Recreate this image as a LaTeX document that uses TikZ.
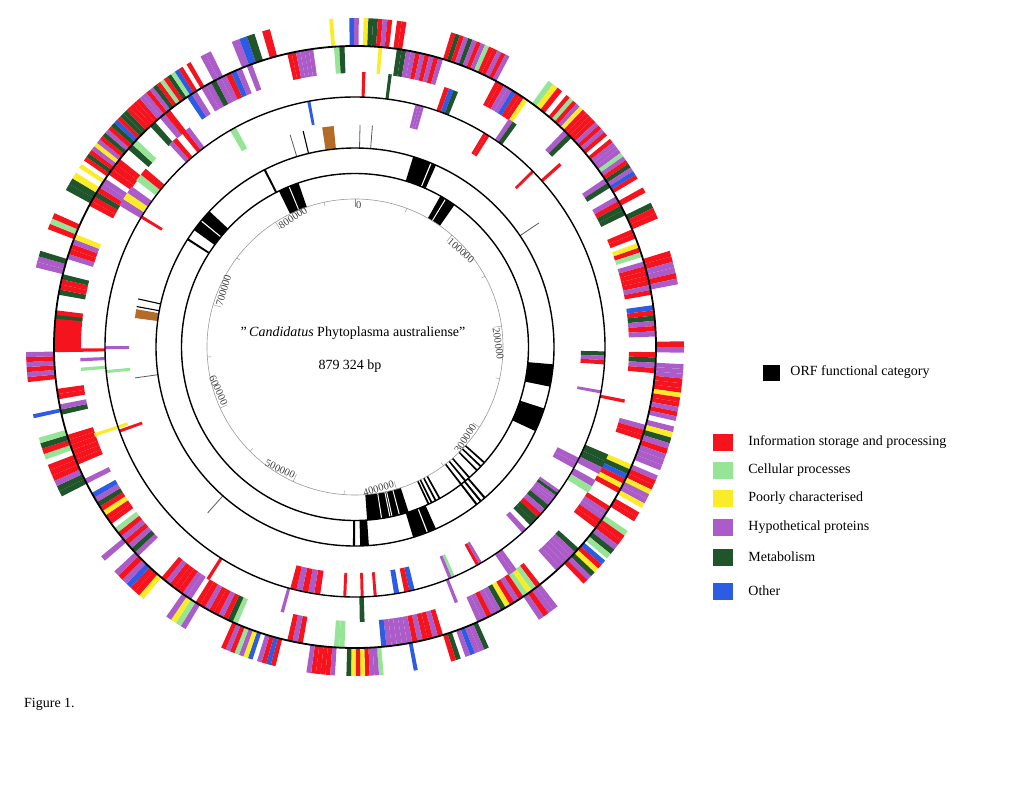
\documentclass[tikz,border=0pt]{standalone}
\usepackage{fontspec}
\setmainfont{Liberation Serif}
\usetikzlibrary{positioning}
\definecolor{gred}{RGB}{245,20,30}
\definecolor{gpurple}{RGB}{172,92,200}
\definecolor{gdgreen}{RGB}{32,84,42}
\definecolor{glgreen}{RGB}{150,228,150}
\definecolor{gyellow}{RGB}{250,236,40}
\definecolor{gblue}{RGB}{45,92,228}
\definecolor{gbrown}{RGB}{178,108,40}

% ring sector: inner r, outer r, from, to (degrees clockwise from top), colour
\newcommand{\arcbar}[5]{%
  \fill[#5] ({90-(#3)}:#1) arc[start angle={90-(#3)}, end angle={90-(#4)}, radius=#1]
    -- ({90-(#4)}:#2) arc[start angle={90-(#4)}, end angle={90-(#3)}, radius=#2] -- cycle;}

% a run of genes: inner r, outer r, from, to, number, percent left white
\newcommand{\genes}[6]{%
  \pgfmathsetmacro{\gw}{((#4)-(#3))/(#5)}%
  \foreach \k in {1,...,#5}{%
    \pgfmathsetmacro{\ga}{(#3)+(\k-1)*\gw}%
    \pgfmathrandominteger{\gg}{1}{100}%
    \ifnum\gg>#6\relax
      \pgfmathrandominteger{\gc}{1}{100}%
      \ifnum\gc<38 \def\gcol{gred}\else
      \ifnum\gc<70 \def\gcol{gpurple}\else
      \ifnum\gc<84 \def\gcol{gdgreen}\else
      \ifnum\gc<90 \def\gcol{glgreen}\else
      \ifnum\gc<95 \def\gcol{gyellow}\else
      \def\gcol{gblue}\fi\fi\fi\fi\fi
      \arcbar{#1}{#2}{\ga}{\ga+\gw}{\gcol}%
    \fi}}

\begin{document}
\begin{tikzpicture}[x=1pt,y=1pt]
\tikzset{
  legbox/.style={draw=none,minimum width=20pt,minimum height=17pt,inner sep=0},
  legtext/.style={font=\fontsize{14}{16}\selectfont,anchor=west,inner sep=0},
  scalelab/.style={font=\fontsize{10.5}{12}\selectfont,text=black!75,inner sep=1pt},
  ring/.style={line width=1.4pt},
  orfline/.style={line width=1.1pt},
  rnatick/.style={black!65,line width=0.8pt}
}
\useasboundingbox (-355,-438) rectangle (669,347);
\pgfmathsetseed{4242}

% outer gene tracks
\foreach \a/\b/\m/\g in {338/345/5/40, 359/369/12/5, 17/28/14/0, 36/39/3/20,
  40/60/26/5, 61/62/1/0, 64/67/3/0, 70/82/12/30, 87/91/4/30, 93/103/12/5,
  104/112/8/0, 113/122/10/5, 124/130/6/10, 130.5/136/6/10, 142/146/4/10,
  156/163/8/5, 175/181.5/8/5, 183.5/188.5/6/5, 194/204/12/5, 211/215/4/10,
  220/227/7/0, 229.5/230.5/1/0, 243/249/6/5, 250/254/4/0, 263/270/8/20,
  284/287/3/0, 291/294/3/0, 295/302/6/40, 303/326/30/5, 326/330/5/30, 332/334/2/0}
  {\genes{301}{329}{\a}{\b}{\m}{\g}}
\foreach \a/\b/\m/\g in {325/340/14/40, 347/352/6/0, 355/360/5/30, 8/17/10/0,
  27/35/9/5, 44/46/2/0, 56/58/2/0, 60/64/4/0, 67/80/14/10, 82/88/6/0, 91/95/4/0,
  105/108/3/0, 113/119/6/5, 122/127/5/5, 132/138/6/5, 142/156/14/5, 163/175/12/5,
  182/184/2/0, 189/193/4/10, 203/212/9/5, 213/220/7/5, 226/244/18/5, 247/253/6/5,
  257/262/5/20, 280/284/4/0, 287/292/5/0, 297/304/7/10, 305/322/14/20}
  {\genes{274}{301}{\a}{\b}{\m}{\g}}
\foreach \a/\b/\m/\g in {19/22/3/0, 34/36/2/0, 113/122/6/20, 144/146/2/0,
  178/181/3/30, 301/312/7/20, 317.5/319.5/2/0, 321/323/2/0}
  {\genes{250}{275}{\a}{\b}{\m}{\g}}
\foreach \a/\b/\m/\g in {14/16/3/0, 31/32.5/2/0, 91/94/3/0, 115/119/3/30,
  125/128/4/0, 128/138/8/20, 149.5/151/2/0, 156.5/158/2/0, 165/171/5/30,
  188/195/5/30, 330/333/2/20}
  {\genes{226}{250}{\a}{\b}{\m}{\g}}
\arcbar{274}{301}{269}{277}{gred}
\arcbar{274}{301}{275.4}{276.1}{gdgreen}
\foreach \r/\s/\c/\col in {301/329/355.5/gyellow, 301/329/169/gblue,
  301/329/257.5/gblue, 274/301/4.5/gyellow, 250/275/1.5/gred, 250/275/7/gdgreen,
  250/275/48/gred, 250/275/101/gred, 250/275/158/gpurple, 250/275/195/gpurple,
  250/275/212/gred, 250/275/265/glgreen, 250/275/267/gpurple, 250/275/269/gred,
  226/250/349/gblue, 226/250/45/gred, 226/250/100/gpurple, 226/250/175/gred,
  226/250/178/gred, 226/250/182/gred, 226/250/301/gred, 226/250/264/glgreen,
  226/250/269.5/gpurple, 226/250/250/gred, 240/275/251/gyellow}
  {\arcbar{\r}{\s}{\c}{\c+0.7}{\col}}

% RNA track
\foreach \c in {1.3, 4.5, 343, 56, 221.6, 262}
  {\draw[rnatick] ({90-\c}:199) -- ({90-\c}:222);}
\foreach \c in {346.5, 280.5, 282.5}
  {\draw[orfline] ({90-\c}:199) -- ({90-\c}:222);}
\arcbar{199}{222}{351.5}{354.5}{gbrown}
\arcbar{199}{222}{277.5}{279.8}{gbrown}

% ORF tracks
\foreach \a/\b in {334/341, 29.5/35, 162/176}
  {\arcbar{148}{173.5}{\a}{\b}{black}}
\foreach \c in {131.5, 133.2, 135, 138.5, 140.2, 142, 150.5, 152, 153.5, 154.6}
  {\arcbar{148}{173.5}{\c}{\c+0.6}{black}}
\foreach \c in {31.3, 337.5, 165, 167.5, 168.2, 171}
  {\arcbar{148}{173.5}{\c}{\c+0.35}{white}}
\foreach \a/\b in {17/24, 95/101.5, 108/115, 156/163, 176/178.5, 306/313}
  {\arcbar{173.5}{199}{\a}{\b}{black}}
\foreach \c in {139, 140.5, 142, 180, 302.5, 332.7}
  {\arcbar{173.5}{199}{\c}{\c+0.6}{black}}
\foreach \c in {22.3, 309.2, 158.5}
  {\arcbar{173.5}{199}{\c}{\c+0.35}{white}}

% circles
\foreach \r in {173.5,199,250}
  {\draw[ring] (0,0) circle[radius=\r];}
\draw[ring,line width=1.8pt] (0,0) circle[radius=301];

% scale
\draw[black!40,line width=0.6pt] (0,0) circle[radius=148];
\foreach \p in {0,...,8}{
  \pgfmathsetmacro{\c}{\p*40.9404}
  \draw[black!45] ({90-\c}:140) -- ({90-\c}:148);
  \pgfmathsetmacro{\c}{(\p+0.5)*40.9404}
  \draw[black!45] ({90-\c}:144) -- ({90-\c}:148);
}
\foreach \c/\rot/\anc/\lab in {0/0/north west/0, 40.94/-40.94/north west/100000,
  81.88/-81.88/north west/200000, 122.82/57.18/south east/300000,
  163.76/16.24/south east/400000, 204.70/-24.70/south east/500000,
  245.64/-65.64/south east/600000, 286.58/73.42/north west/700000,
  327.52/32.48/north west/800000}
  {\node[scalelab,rotate=\rot,anchor=\anc] (lab\lab) at ({90-\c}:147) {\lab};}

\node[font=\fontsize{14}{16}\selectfont] (title) at (-2,14)
  {\symbol{34}\,\textit{Candidatus} Phytoplasma australiense\symbol{34}};
\node[font=\fontsize{14}{16}\selectfont] (size) at (-5,-19) {879 324 bp};

% legend
\node[legbox,fill=black,minimum width=17pt,minimum height=16pt] (keyorf) at (416.5,-25.5) {};
\node[legtext,right=10pt of keyorf] (textorf) {ORF functional category};
\foreach \nm/\col/\yy/\txt in {info/gred/-95/Information storage and processing,
  cell/glgreen/-123/Cellular processes, poor/gyellow/-151/Poorly characterised,
  hypo/gpurple/-180.5/Hypothetical proteins, meta/gdgreen/-210/Metabolism,
  other/gblue/-244/Other}
  {\node[legbox,fill=\col] (key\nm) at (368,\yy) {};
   \node[legtext,right=15pt of key\nm] (text\nm) {\txt};}

\node[font=\fontsize{14}{16}\selectfont,anchor=west,inner sep=0] (caption) at (-331,-357) {Figure 1.};
\end{tikzpicture}
\end{document}
